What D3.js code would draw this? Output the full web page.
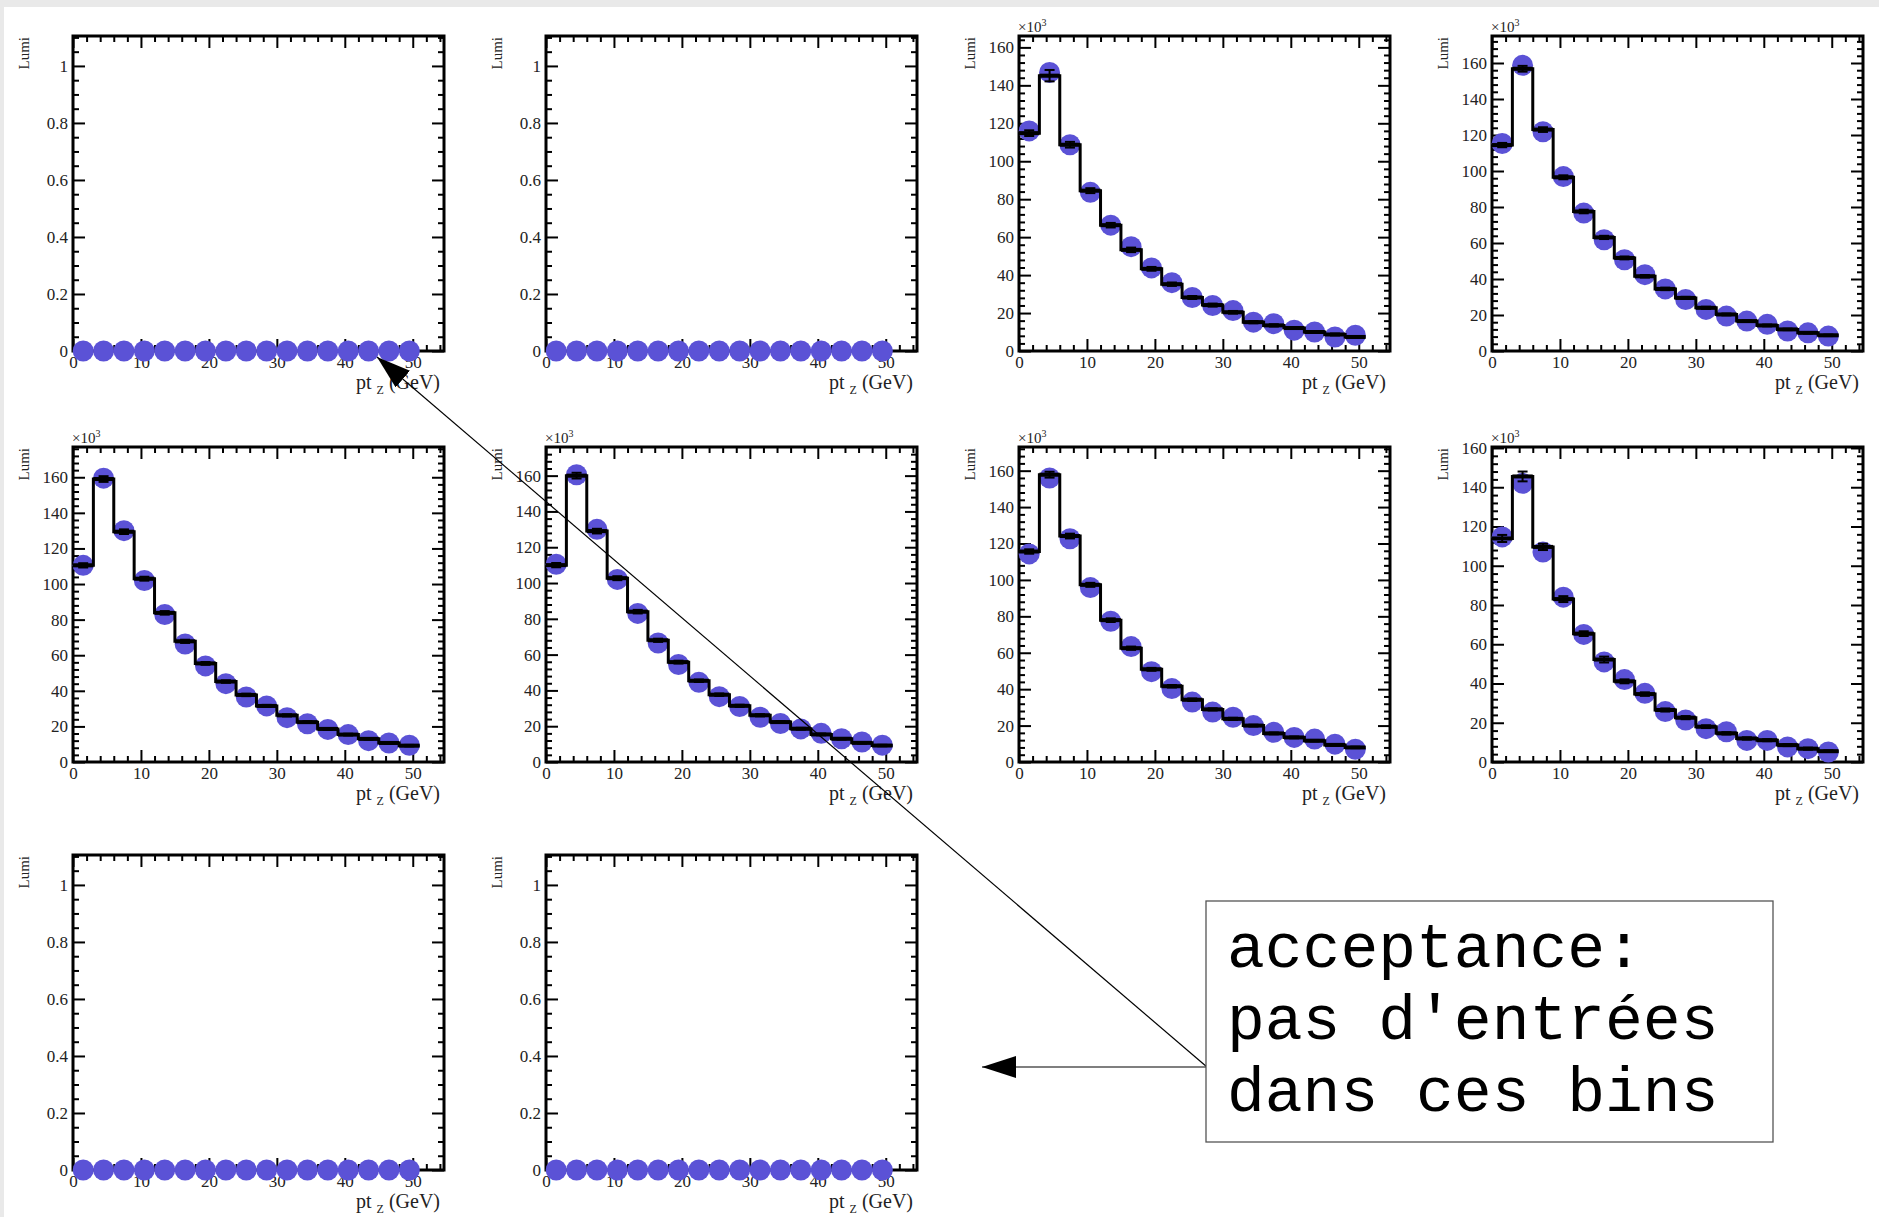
<!DOCTYPE html>
<html>
<head>
<meta charset="utf-8">
<script src="https://cdn.jsdelivr.net/npm/d3@7"></script>
<style>
  body { margin: 0; background: #e9e9e9; }
  svg { display: block; }
  .tick text { font-family: "Liberation Serif", "Times New Roman", serif; font-size: 17px; fill: #222; }
</style>
</head>
<body>
<div id="chart"></div>
<script>

// bins (pt_Z, GeV)
var binCenters = [1.5, 4.5, 7.5, 10.5, 13.5, 16.5, 19.5, 22.5, 25.5, 28.5, 31.5, 34.5, 37.5, 40.5, 43.5, 46.5, 49.5];
var binWidth = 3;

// tick labels
var xTicks = [0, 10, 20, 30, 40, 50];
var yTicksEmpty = [0, 0.2, 0.4, 0.6, 0.8, 1];
var yTicksData = [0, 20, 40, 60, 80, 100, 120, 140, 160];

// empty bins (no entries)
var zeros = [0, 0, 0, 0, 0, 0, 0, 0, 0, 0, 0, 0, 0, 0, 0, 0, 0];

// histogram (black line) per panel
var h3 = [114.8, 145.1, 108.7, 84.5, 66.3, 53.3, 43.3, 35.2, 28.2, 24.2, 20.4, 15.2, 13.5, 12.1, 10, 8.7, 7.4];
var h4 = [114.4, 156.8, 123, 96.5, 77.5, 63.1, 51.7, 41.5, 34.5, 29.5, 24, 20.3, 16.6, 14.2, 12, 10.1, 8.7];
var h5 = [110.5, 159, 129.4, 103, 83.8, 67.8, 55.4, 45.2, 37.7, 31.5, 26.2, 22.4, 18.6, 15.4, 13, 10.7, 9.2];
var h6 = [110, 160, 129, 102.7, 84, 68, 55.8, 45.4, 37.6, 31.4, 26.1, 22.3, 18.6, 15.4, 13, 10.7, 9.2];
var h7 = [115.6, 157.8, 124.1, 97.3, 77.9, 62.5, 50.9, 41.6, 34.2, 28.9, 23.7, 20, 15.7, 13.5, 11.7, 9.4, 8];
var h8 = [113.9, 145.5, 109.6, 83, 65.4, 52.2, 41.1, 34.6, 26.5, 22.6, 18, 14.6, 12, 11.1, 8.6, 6.8, 5.5];

// markers (blue points) per panel
var m3 = [116, 146.8, 108.7, 83.6, 66.3, 55, 43.8, 36, 28.2, 24, 21.3, 15.2, 14.4, 11, 10, 7.4, 8.3];
var m4 = [115.3, 158.7, 121.8, 96.9, 76.6, 61.8, 50.7, 42.4, 34.5, 28.6, 23.1, 19.4, 16.6, 14.8, 11.1, 10.1, 8.3];
var m5 = [110.5, 159.5, 130, 102, 82.9, 66.3, 54, 44, 36.5, 31.5, 24.9, 21.5, 18.3, 15.4, 12, 10.7, 9.4];
var m6 = [110.5, 160.5, 130, 102, 83, 66.5, 54.5, 44.5, 36.5, 31, 25, 21.5, 18.5, 16, 13, 11.2, 9.4];
var m7 = [114.3, 156, 122.6, 95.8, 77.3, 63.4, 49.6, 40.3, 32.9, 27.4, 24.6, 20, 16.3, 13.5, 12.6, 9.8, 7];
var m8 = [114.7, 142, 107, 84, 65, 51, 42, 35, 25.7, 21.4, 17, 15.4, 11, 11, 7.7, 6.8, 5.1];

// errors on histogram
var e3 = [1.5, 3, 1.5, 1.3, 1.2, 1.2, 1, 0.9, 0.8, 0.8, 0.7, 0.6, 0.6, 0.5, 0.5, 0.5, 0.4];
var eMid = [1.2, 1.6, 1.3, 1.1, 1, 0.9, 0.8, 0.7, 0.7, 0.6, 0.6, 0.5, 0.5, 0.5, 0.4, 0.4, 0.4];
var e8 = [1.8, 2.5, 1.6, 1.5, 1.2, 1.5, 1, 0.9, 0.8, 0.8, 0.7, 0.6, 0.6, 0.5, 0.5, 0.5, 0.4];

var yMax = [1.105, 1.105, 166, 175, 177, 176, 173, 160.5, 1.105, 1.105];

var panels = [
  {row: 0, col: 0, h: zeros, m: zeros, e: zeros},
  {row: 0, col: 1, h: zeros, m: zeros, e: zeros},
  {row: 0, col: 2, h: h3, m: m3, e: e3},
  {row: 0, col: 3, h: h4, m: m4, e: eMid},
  {row: 1, col: 0, h: h5, m: m5, e: eMid},
  {row: 1, col: 1, h: h6, m: m6, e: eMid},
  {row: 1, col: 2, h: h7, m: m7, e: eMid},
  {row: 1, col: 3, h: h8, m: m8, e: e8},
  {row: 2, col: 0, h: zeros, m: zeros, e: zeros},
  {row: 2, col: 1, h: zeros, m: zeros, e: zeros}
];

var frameX = [73, 546, 1019, 1492],
    frameY = [36, 447, 855],
    fw = 371, fh = 315;

var markerColor = "#5b52d6";
var serif = "'Liberation Serif', 'Times New Roman', serif";

var svg = d3.select("#chart")
  .append("svg")
    .attr("width", 1879)
    .attr("height", 1217);

svg.append("rect")
  .attr("x", 4).attr("y", 7)
  .attr("width", 1875).attr("height", 1210)
  .attr("fill", "#fff");

panels.forEach(function(p, i) {
  var empty = p.h === zeros;
  var g = svg.append("g")
    .attr("transform", "translate(" + frameX[p.col] + "," + frameY[p.row] + ")");

  var x = d3.scaleLinear().domain([0, 54.6]).range([0, fw]);
  var y = d3.scaleLinear().domain([0, yMax[i]]).range([fh, 0]);

  var yMajor = empty ? yTicksEmpty : yTicksData.filter(function(v) { return v <= yMax[i]; });
  var yStep = empty ? 0.05 : 4;
  var yMinor = d3.range(0, yMax[i], yStep).filter(function(v) {
    return yMajor.every(function(t) { return Math.abs(t - v) > 1e-6; });
  });
  var xMinor = d3.range(0, 54.6, 2).filter(function(v) { return v % 10 !== 0; });

  // major axes with labels (left, bottom), ticks inward
  g.append("g")
    .call(d3.axisLeft(y).tickValues(yMajor).tickFormat(d3.format("~g"))
      .tickSizeInner(-12).tickSizeOuter(0).tickPadding(5));
  g.append("g")
    .attr("transform", "translate(0," + fh + ")")
    .call(d3.axisBottom(x).tickValues(xTicks).tickSizeInner(-12).tickSizeOuter(0).tickPadding(5));
  // mirrored ticks on right / top
  g.append("g")
    .attr("transform", "translate(" + fw + ",0)")
    .call(d3.axisRight(y).tickValues(yMajor).tickSizeInner(-12).tickSizeOuter(0).tickFormat(""));
  g.append("g")
    .call(d3.axisTop(x).tickValues(xTicks).tickSizeInner(-12).tickSizeOuter(0).tickFormat(""));
  // minor ticks
  g.append("g").call(d3.axisLeft(y).tickValues(yMinor).tickSizeInner(-6).tickSizeOuter(0).tickFormat(""));
  g.append("g").attr("transform", "translate(" + fw + ",0)")
    .call(d3.axisRight(y).tickValues(yMinor).tickSizeInner(-6).tickSizeOuter(0).tickFormat(""));
  g.append("g").attr("transform", "translate(0," + fh + ")")
    .call(d3.axisBottom(x).tickValues(xMinor).tickSizeInner(-6).tickSizeOuter(0).tickFormat(""));
  g.append("g").call(d3.axisTop(x).tickValues(xMinor).tickSizeInner(-6).tickSizeOuter(0).tickFormat(""));

  g.selectAll(".domain").remove();
  g.selectAll(".tick line").attr("stroke", "#000").attr("stroke-width", 2);

  // frame
  g.append("rect")
    .attr("width", fw).attr("height", fh)
    .attr("fill", "none").attr("stroke", "#000").attr("stroke-width", 3);

  // y title
  g.append("text")
    .attr("transform", "translate(-44,1) rotate(-90)")
    .attr("text-anchor", "end")
    .style("font-family", serif).style("font-size", "15px").style("fill", "#222")
    .text("Lumi");

  // exponent label
  if (!empty) {
    var ex = g.append("text")
      .attr("x", -1).attr("y", -4)
      .style("font-family", serif).style("font-size", "15px").style("fill", "#222")
      .text("\u00d710");
    ex.append("tspan").attr("dy", -6).style("font-size", "10px").text("3");
  }

  // x title: pt_Z (GeV)
  var xt = g.append("text")
    .attr("x", fw - 4).attr("y", fh + 38)
    .attr("text-anchor", "end")
    .style("font-family", serif).style("font-size", "20px").style("fill", "#222");
  xt.append("tspan").text("pt ");
  xt.append("tspan").attr("dy", 5).style("font-size", "12px").text("Z");
  xt.append("tspan").attr("dy", -5).text(" (GeV)");

  // markers
  g.selectAll("circle.pt")
    .data(p.m)
    .enter()
    .append("circle")
      .attr("class", "pt")
      .attr("cx", function(d, k) { return x(binCenters[k]); })
      .attr("cy", function(d) { return y(d); })
      .attr("r", 10.5)
      .attr("fill", markerColor);

  if (!empty) {
    // histogram steps
    var pts = p.h.map(function(v, k) { return [binCenters[k] - binWidth / 2, v]; });
    pts.push([binCenters[binCenters.length - 1] + binWidth / 2, p.h[p.h.length - 1]]);
    var line = d3.line()
      .x(function(d) { return x(d[0]); })
      .y(function(d) { return y(d[1]); })
      .curve(d3.curveStepAfter);
    g.append("path")
      .attr("d", line(pts))
      .attr("fill", "none").attr("stroke", "#000").attr("stroke-width", 3);

    // error bars
    var eb = g.selectAll("g.err")
      .data(p.h)
      .enter()
      .append("g").attr("class", "err");
    eb.append("line")
      .attr("x1", function(d, k) { return x(binCenters[k] - binWidth / 2); })
      .attr("x2", function(d, k) { return x(binCenters[k] + binWidth / 2); })
      .attr("y1", function(d) { return y(d); })
      .attr("y2", function(d) { return y(d); })
      .attr("stroke", "#000").attr("stroke-width", 4);
    eb.append("line")
      .attr("x1", function(d, k) { return x(binCenters[k]); })
      .attr("x2", function(d, k) { return x(binCenters[k]); })
      .attr("y1", function(d, k) { return y(d - p.e[k]); })
      .attr("y2", function(d, k) { return y(d + p.e[k]); })
      .attr("stroke", "#000").attr("stroke-width", 2);
    [-1, 1].forEach(function(s) {
      eb.append("line")
        .attr("x1", function(d, k) { return x(binCenters[k]) - 5; })
        .attr("x2", function(d, k) { return x(binCenters[k]) + 5; })
        .attr("y1", function(d, k) { return y(d + s * p.e[k]); })
        .attr("y2", function(d, k) { return y(d + s * p.e[k]); })
        .attr("stroke", "#000").attr("stroke-width", 2);
    });
  }
});

// annotation box and arrows
var defs = svg.append("defs");
defs.append("marker")
  .attr("id", "head")
  .attr("viewBox", "0 0 34 22")
  .attr("refX", 34).attr("refY", 11)
  .attr("markerWidth", 34).attr("markerHeight", 22)
  .attr("markerUnits", "userSpaceOnUse")
  .attr("orient", "auto")
  .append("path")
    .attr("d", "M0,0 L34,11 L0,22 Z")
    .attr("fill", "#000");

var anchor = [1207, 1067];
var targets = [[377, 357], [982, 1067]];

targets.forEach(function(t) {
  svg.append("line")
    .attr("x1", anchor[0]).attr("y1", anchor[1])
    .attr("x2", t[0]).attr("y2", t[1])
    .attr("stroke", "#000").attr("stroke-width", 1.2)
    .attr("marker-end", "url(#head)");
});

svg.append("rect")
  .attr("x", 1206).attr("y", 901)
  .attr("width", 567).attr("height", 241)
  .attr("fill", "#fff").attr("stroke", "#555").attr("stroke-width", 1.3);

var noteLines = ["acceptance:", "pas d'entrées", "dans ces bins"];
svg.append("g")
  .selectAll("text")
  .data(noteLines)
  .enter()
  .append("text")
    .attr("x", 1227)
    .attr("y", function(d, k) { return 967 + k * 72; })
    .style("font-family", "'Liberation Mono', 'Courier New', monospace")
    .style("font-size", "63px")
    .style("fill", "#000")
    .text(function(d) { return d; });

</script>
</body>
</html>
